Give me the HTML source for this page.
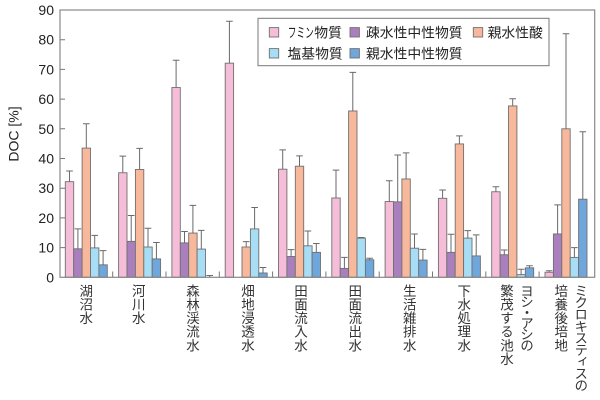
<!DOCTYPE html>
<html><head><meta charset="utf-8"><style>
html,body{margin:0;padding:0;background:#fff;}
#w{position:relative;width:600px;height:400px;overflow:hidden;font-family:"Liberation Sans","Noto Sans CJK JP",sans-serif;}
svg{position:absolute;left:0;top:0;}
.lb{position:absolute;top:284px;width:14px;font-size:13.5px;line-height:14px;writing-mode:vertical-rl;color:#333;letter-spacing:0.1px;white-space:nowrap;}
</style></head><body><div id="w">
<svg width="600" height="400" viewBox="0 0 600 400" font-family="Liberation Sans, Noto Sans CJK JP, sans-serif">
<g font-size="14" fill="#222" text-anchor="end">
<text x="54" y="282.3">0</text><text x="54" y="252.6">10</text><text x="54" y="222.9">20</text><text x="54" y="193.2">30</text><text x="54" y="163.5">40</text><text x="54" y="133.8">50</text><text x="54" y="104.1">60</text><text x="54" y="74.4">70</text><text x="54" y="44.7">80</text><text x="54" y="15">90</text>
</g>
<text transform="translate(13.5,134) rotate(-90)" x="0" y="5" font-size="14" fill="#222" text-anchor="middle">DOC [%]</text>
<g stroke="#707070" stroke-width="0.9">
<g fill="#f6bdd8">
<rect x="65.3" y="181.67" width="8.4" height="95.63"/>
<rect x="118.6" y="172.76" width="8.4" height="104.54"/>
<rect x="171.9" y="87.52" width="8.4" height="189.78"/>
<rect x="225.2" y="63.16" width="8.4" height="214.14"/>
<rect x="278.5" y="169.19" width="8.4" height="108.11"/>
<rect x="331.8" y="198.00" width="8.4" height="79.30"/>
<rect x="385.1" y="201.56" width="8.4" height="75.74"/>
<rect x="438.4" y="198.30" width="8.4" height="79.00"/>
<rect x="491.7" y="191.76" width="8.4" height="85.54"/>
<rect x="545.0" y="272.25" width="8.4" height="5.05"/>
</g>
<g fill="#a97fbd">
<rect x="73.7" y="248.79" width="8.4" height="28.51"/>
<rect x="127.0" y="241.36" width="8.4" height="35.94"/>
<rect x="180.3" y="242.85" width="8.4" height="34.45"/>
<rect x="286.9" y="256.51" width="8.4" height="20.79"/>
<rect x="340.2" y="268.39" width="8.4" height="8.91"/>
<rect x="393.5" y="201.86" width="8.4" height="75.44"/>
<rect x="446.8" y="252.35" width="8.4" height="24.95"/>
<rect x="500.1" y="254.73" width="8.4" height="22.57"/>
<rect x="553.4" y="233.94" width="8.4" height="43.36"/>
</g>
<g fill="#f8b89b">
<rect x="82.1" y="148.10" width="8.4" height="129.20"/>
<rect x="135.4" y="169.49" width="8.4" height="107.81"/>
<rect x="188.7" y="233.05" width="8.4" height="44.25"/>
<rect x="242.0" y="247.01" width="8.4" height="30.29"/>
<rect x="295.3" y="166.22" width="8.4" height="111.08"/>
<rect x="348.6" y="110.98" width="8.4" height="166.32"/>
<rect x="401.9" y="178.99" width="8.4" height="98.31"/>
<rect x="455.2" y="143.95" width="8.4" height="133.35"/>
<rect x="508.5" y="105.93" width="8.4" height="171.37"/>
<rect x="561.8" y="128.80" width="8.4" height="148.50"/>
</g>
<g fill="#a7ddf5">
<rect x="90.5" y="247.90" width="8.4" height="29.40"/>
<rect x="143.8" y="247.01" width="8.4" height="30.29"/>
<rect x="197.1" y="249.08" width="8.4" height="28.22"/>
<rect x="250.4" y="228.89" width="8.4" height="48.41"/>
<rect x="303.7" y="245.82" width="8.4" height="31.48"/>
<rect x="357.0" y="238.10" width="8.4" height="39.20"/>
<rect x="410.3" y="248.19" width="8.4" height="29.11"/>
<rect x="463.6" y="238.10" width="8.4" height="39.20"/>
<rect x="516.9" y="274.63" width="8.4" height="2.67"/>
<rect x="570.2" y="257.40" width="8.4" height="19.90"/>
</g>
<g fill="#6fa6db">
<rect x="98.9" y="264.83" width="8.4" height="12.47"/>
<rect x="152.2" y="258.89" width="8.4" height="18.41"/>
<rect x="258.8" y="272.99" width="8.4" height="4.31"/>
<rect x="312.1" y="252.35" width="8.4" height="24.95"/>
<rect x="365.4" y="259.78" width="8.4" height="17.52"/>
<rect x="418.7" y="260.07" width="8.4" height="17.23"/>
<rect x="472.0" y="255.92" width="8.4" height="21.38"/>
<rect x="525.3" y="267.80" width="8.4" height="9.50"/>
<rect x="578.6" y="199.19" width="8.4" height="78.11"/>
</g>
</g>
<path fill="none" stroke="#6a6a6a" stroke-width="1" d="M69.5,181.67V170.97M66.2,170.97h6.6 M77.9,248.79V228.89M74.6,228.89h6.6 M86.3,148.10V123.75M83,123.75h6.6 M94.7,247.90V235.42M91.4,235.42h6.6 M103.1,264.83V250.57M99.8,250.57h6.6 M122.8,172.76V156.12M119.5,156.12h6.6 M131.2,241.36V215.52M127.9,215.52h6.6 M139.6,169.49V148.40M136.3,148.40h6.6 M148.0,247.01V228.29M144.7,228.29h6.6 M156.4,258.89V242.55M153.1,242.55h6.6 M176.1,87.52V60.19M172.8,60.19h6.6 M184.5,242.85V231.56M181.2,231.56h6.6 M192.9,233.05V205.43M189.6,205.43h6.6 M201.3,249.08V230.37M198,230.37h6.6 M209.7,277.3V275.52M206.4,275.52h6.6 M229.4,63.16V21.29M226.1,21.29h6.6 M246.2,247.01V241.66M242.9,241.66h6.6 M254.6,228.89V207.50M251.3,207.50h6.6 M263.0,272.99V267.50M259.7,267.50h6.6 M282.7,169.19V149.89M279.4,149.89h6.6 M291.1,256.51V249.68M287.8,249.68h6.6 M299.5,166.22V155.83M296.2,155.83h6.6 M307.9,245.82V230.97M304.6,230.97h6.6 M316.3,252.35V243.44M313,243.44h6.6 M336.0,198.00V170.08M332.7,170.08h6.6 M344.4,268.39V257.40M341.1,257.40h6.6 M352.8,110.98V72.37M349.5,72.37h6.6 M361.2,238.10V237.50M357.9,237.50h6.6 M369.6,259.78V258.29M366.3,258.29h6.6 M389.3,201.56V180.77M386,180.77h6.6 M397.7,201.86V154.94M394.4,154.94h6.6 M406.1,178.99V152.86M402.8,152.86h6.6 M414.5,248.19V233.94M411.2,233.94h6.6 M422.9,260.07V249.38M419.6,249.38h6.6 M442.6,198.30V189.98M439.3,189.98h6.6 M451.0,252.35V234.23M447.7,234.23h6.6 M459.4,143.95V135.93M456.1,135.93h6.6 M467.8,238.10V230.67M464.5,230.67h6.6 M476.2,255.92V234.83M472.9,234.83h6.6 M495.9,191.76V186.71M492.6,186.71h6.6 M504.3,254.73V249.98M501,249.98h6.6 M512.7,105.93V98.80M509.4,98.80h6.6 M521.1,274.63V269.28M517.8,269.28h6.6 M529.5,267.80V265.72M526.2,265.72h6.6 M549.2,272.25V270.77M545.9,270.77h6.6 M557.6,233.94V204.83M554.3,204.83h6.6 M566.0,128.80V33.76M562.7,33.76h6.6 M574.4,257.40V247.60M571.1,247.60h6.6 M582.8,199.19V131.77M579.5,131.77h6.6"/>
<path fill="none" stroke="#777" stroke-width="1" d="M60,247.6h5M60,217.9h5M60,188.2h5M60,158.5h5M60,128.8h5M60,99.1h5M60,69.4h5M60,39.7h5 M112.7,277.3V271.5M166.0,277.3V271.5M219.3,277.3V271.5M272.6,277.3V271.5M325.9,277.3V271.5M379.2,277.3V271.5M432.5,277.3V271.5M485.8,277.3V271.5M539.1,277.3V271.5"/>
<rect x="60" y="10" width="534.7" height="267.3" fill="none" stroke="#888" stroke-width="1.2"/>
<rect x="258" y="18.3" width="291" height="47.4" fill="#fff" stroke="#777" stroke-width="1"/>
<g stroke="#707070" stroke-width="0.9">
<rect x="269.3" y="27.6" width="9.4" height="9.4" fill="#f6bdd8"/>
<rect x="350" y="27.6" width="9.4" height="9.4" fill="#a97fbd"/>
<rect x="473.3" y="27.6" width="9.4" height="9.4" fill="#f8b89b"/>
<rect x="269.3" y="48.6" width="9.4" height="9.4" fill="#a7ddf5"/>
<rect x="350" y="48.6" width="9.4" height="9.4" fill="#6fa6db"/>
</g>
<g font-size="13.8" fill="#222">
<text x="287.8" y="37.6" textLength="26" lengthAdjust="spacingAndGlyphs">フミン</text>
<text x="314.3" y="37.6">物質</text>
<text x="366" y="37.6">疎水性中性物質</text>
<text x="487.6" y="37.6">親水性酸</text>
<text x="287.5" y="58.6">塩基物質</text>
<text x="366" y="58.6">親水性中性物質</text>
</g>
</svg>
<div class="lb" style="left:77.3px">湖沼水</div>
<div class="lb" style="left:129.7px">河川水</div>
<div class="lb" style="left:184px">森林渓流水</div>
<div class="lb" style="left:239px">畑地浸透水</div>
<div class="lb" style="left:292px">田面流入水</div>
<div class="lb" style="left:346.3px">田面流出水</div>
<div class="lb" style="left:400.7px">生活雑排水</div>
<div class="lb" style="left:455.3px">下水処理水</div>
<div class="lb" style="left:518px;letter-spacing:-2.6px">ヨシ・アシの</div>
<div class="lb" style="left:498px">繁茂する池水</div>
<div class="lb" style="left:572.3px;letter-spacing:-1.7px">ミクロキスティスの</div>
<div class="lb" style="left:552.3px">培養後培地</div>
</div></body></html>
